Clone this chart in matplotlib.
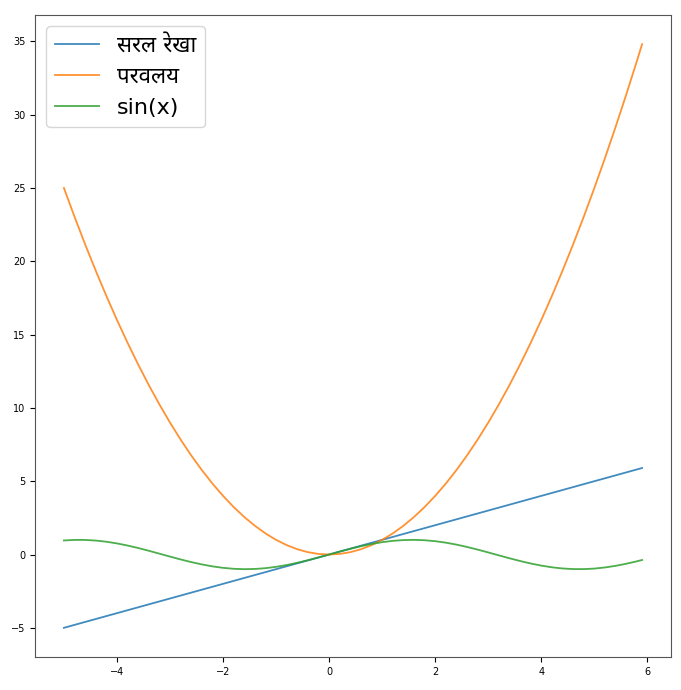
import matplotlib
matplotlib.use("Agg")
import matplotlib.pyplot as plt

plt.rcParams['font.family'] = ['DejaVu Sans', 'Noto Sans']

x_values = [-5.0, -4.8, -4.6, -4.4, -4.2, -4.0, -3.8, -3.6, -3.4, -3.2,
            -3.0, -2.8, -2.6, -2.4, -2.2, -2.0, -1.8, -1.6, -1.4, -1.2,
            -1.0, -0.8, -0.6, -0.4, -0.2, 0.0, 0.2, 0.4, 0.6, 0.8,
            1.0, 1.2, 1.4, 1.6, 1.8, 2.0, 2.2, 2.4, 2.6, 2.8,
            3.0, 3.2, 3.4, 3.6, 3.8, 4.0, 4.2, 4.4, 4.6, 4.8,
            5.0, 5.2, 5.4, 5.6, 5.8, 5.9]
line_values = [-5.0, -4.8, -4.6, -4.4, -4.2, -4.0, -3.8, -3.6, -3.4, -3.2,
               -3.0, -2.8, -2.6, -2.4, -2.2, -2.0, -1.8, -1.6, -1.4, -1.2,
               -1.0, -0.8, -0.6, -0.4, -0.2, 0.0, 0.2, 0.4, 0.6, 0.8,
               1.0, 1.2, 1.4, 1.6, 1.8, 2.0, 2.2, 2.4, 2.6, 2.8,
               3.0, 3.2, 3.4, 3.6, 3.8, 4.0, 4.2, 4.4, 4.6, 4.8,
               5.0, 5.2, 5.4, 5.6, 5.8, 5.9]
parabola_values = [25.0, 23.04, 21.16, 19.36, 17.64, 16.0, 14.44, 12.96, 11.56, 10.24,
                   9.0, 7.84, 6.76, 5.76, 4.84, 4.0, 3.24, 2.56, 1.96, 1.44,
                   1.0, 0.64, 0.36, 0.16, 0.04, 0.0, 0.04, 0.16, 0.36, 0.64,
                   1.0, 1.44, 1.96, 2.56, 3.24, 4.0, 4.84, 5.76, 6.76, 7.84,
                   9.0, 10.24, 11.56, 12.96, 14.44, 16.0, 17.64, 19.36, 21.16, 23.04,
                   25.0, 27.04, 29.16, 31.36, 33.64, 34.81]
sine_values = [0.959, 0.996, 0.994, 0.952, 0.872, 0.757, 0.612, 0.443, 0.256, 0.058,
               -0.141, -0.335, -0.516, -0.675, -0.808, -0.909, -0.974, -1.000, -0.985, -0.932,
               -0.841, -0.717, -0.565, -0.389, -0.199, 0.0, 0.199, 0.389, 0.565, 0.717,
               0.841, 0.932, 0.985, 1.000, 0.974, 0.909, 0.808, 0.675, 0.516, 0.335,
               0.141, -0.058, -0.256, -0.443, -0.612, -0.757, -0.872, -0.952, -0.994, -0.996,
               -0.959, -0.883, -0.773, -0.631, -0.465, -0.374]
labels = ["सरल रेखा", "परवलय", "sin(x)"]

fig = plt.figure(figsize=(6.81, 6.9), dpi=100)
ax = fig.add_axes([35/681, 1-657/690, (671-35)/681, (657-15)/690])
ax.plot(x_values, line_values, label=labels[0], lw=1.3, alpha=0.85)
ax.plot(x_values, parabola_values, label=labels[1], lw=1.3, alpha=0.85)
ax.plot(x_values, sine_values, label=labels[2], lw=1.3, alpha=0.85)
ax.tick_params(labelsize=7)
for s in ax.spines.values():
    s.set_edgecolor('#555555')
ax.legend(loc="upper left", fontsize=16)
fig.savefig("out.png")
